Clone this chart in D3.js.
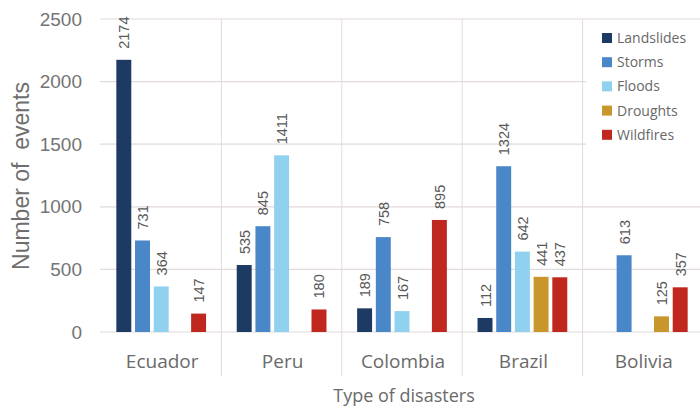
<!DOCTYPE html>
<html>
<head>
<meta charset="utf-8">
<script src="https://cdn.jsdelivr.net/npm/d3@7"></script>
<style>
  html, body { margin: 0; padding: 0; background: #fff; }
  svg { display: block; font-family: "Liberation Sans", Arial, sans-serif; }
</style>
</head>
<body>
<svg id="chart" width="700" height="408"></svg>
<script>
// Countries along the x axis
const countries = ["Ecuador", "Peru", "Colombia", "Brazil", "Bolivia"];
// Disaster types (one bar per type within each country)
const types = ["Landslides", "Storms", "Floods", "Droughts", "Wildfires"];
const typeColors = ["#1d3a62", "#4a87c9", "#8fd1ef", "#c8962a", "#c0281f"];
// Number of events per type, in country order (null = no events recorded)
const landslides = [2174, 535, 189, 112, null];
const storms     = [731, 845, 758, 1324, 613];
const floods     = [364, 1411, 167, 642, null];
const droughts   = [null, null, null, 441, 125];
const wildfires  = [147, 180, 895, 437, 357];
const yTicks = [0, 500, 1000, 1500, 2000, 2500];

const seriesValues = [landslides, storms, floods, droughts, wildfires];

const svg = d3.select("#chart");
const W = 700;

const x0 = d3.scaleBand().domain(countries).range([101, 703]).paddingInner(0).paddingOuter(0);
const x1 = d3.scaleBand().domain(types).range([0, x0.bandwidth()]).paddingOuter(0.82).paddingInner(0.2);
const y = d3.scaleLinear().domain([0, 2500]).range([332, 19]);
const color = d3.scaleOrdinal().domain(types).range(typeColors);

const gridColor = "#e3dada";
const sideFont = "'Open Sans', 'Liberation Sans', sans-serif";

// Horizontal gridlines
svg.append("g").selectAll("line").data(yTicks).join("line")
  .attr("x1", 100).attr("x2", W)
  .attr("y1", d => y(d)).attr("y2", d => y(d))
  .attr("stroke", gridColor).attr("stroke-width", 1.2);

// Vertical separators between countries
svg.append("g").selectAll("line").data(countries.slice(1)).join("line")
  .attr("x1", d => x0(d)).attr("x2", d => x0(d))
  .attr("y1", y(2500)).attr("y2", 376)
  .attr("stroke", gridColor).attr("stroke-width", 1);

// Y axis tick labels
const yAxis = d3.axisLeft(y).tickValues(yTicks).tickFormat(d3.format("d")).tickSize(0).tickPadding(0);
const gy = svg.append("g").attr("transform", "translate(82,0)").call(yAxis);
gy.select(".domain").remove();
gy.selectAll("text").attr("fill", "#747474").style("font-size", "19px")
  .style("font-family", "'Liberation Sans', Arial, sans-serif");

// X axis category labels
const xAxis = d3.axisBottom(x0).tickSize(0).tickPadding(0);
const gx = svg.append("g").attr("transform", "translate(1,354)").call(xAxis);
gx.select(".domain").remove();
gx.selectAll("text").attr("fill", "#6a6a6a").style("font-size", "19px")
  .style("font-family", sideFont);

// Bars
const rows = countries.map((c, i) => ({
  country: c,
  items: types.map((t, k) => ({ type: t, value: seriesValues[k][i] })).filter(d => d.value != null)
}));

const groups = svg.append("g").selectAll("g").data(rows).join("g")
  .attr("transform", d => `translate(${x0(d.country)},0)`);

groups.selectAll("rect").data(d => d.items).join("rect")
  .attr("x", d => x1(d.type))
  .attr("width", x1.bandwidth())
  .attr("y", d => y(d.value))
  .attr("height", d => y(0) - y(d.value))
  .attr("fill", d => color(d.type));

// Value labels, rotated above each bar
groups.selectAll("text.val").data(d => d.items).join("text")
  .attr("class", "val")
  .attr("transform", d => `translate(${x1(d.type) + x1.bandwidth() / 2 + 5.5},${y(d.value) - 11}) rotate(-90)`)
  .attr("text-anchor", "start")
  .attr("fill", "#595959")
  .style("font-size", "14.5px")
  .text(d => d.value);

// Axis titles
svg.append("text")
  .attr("transform", `translate(29,176) rotate(-90)`)
  .attr("text-anchor", "middle")
  .attr("fill", "#6e6e6e")
  .style("font-size", "23px")
  .attr("xml:space", "preserve")
  .text("Number of  events");

svg.append("text")
  .attr("x", 404).attr("y", 402)
  .attr("text-anchor", "middle")
  .attr("fill", "#6a6a6a")
  .style("font-size", "18px")
  .style("font-family", sideFont)
  .text("Type of disasters");

// Legend
const legend = svg.append("g").attr("transform", "translate(586,26)");
legend.append("rect").attr("x", 0).attr("y", 0).attr("width", 114).attr("height", 120).attr("fill", "#fff");
const li = legend.selectAll("g").data(types).join("g")
  .attr("transform", (d, i) => `translate(16,${12 + i * 24.2})`);
li.append("rect").attr("x", 0).attr("y", -5).attr("width", 10).attr("height", 10)
  .attr("fill", d => color(d));
li.append("text").attr("x", 15).attr("y", 0).attr("dy", "0.36em")
  .attr("fill", "#686868").style("font-size", "14px")
  .style("font-family", sideFont)
  .text(d => d);
</script>
</body>
</html>
